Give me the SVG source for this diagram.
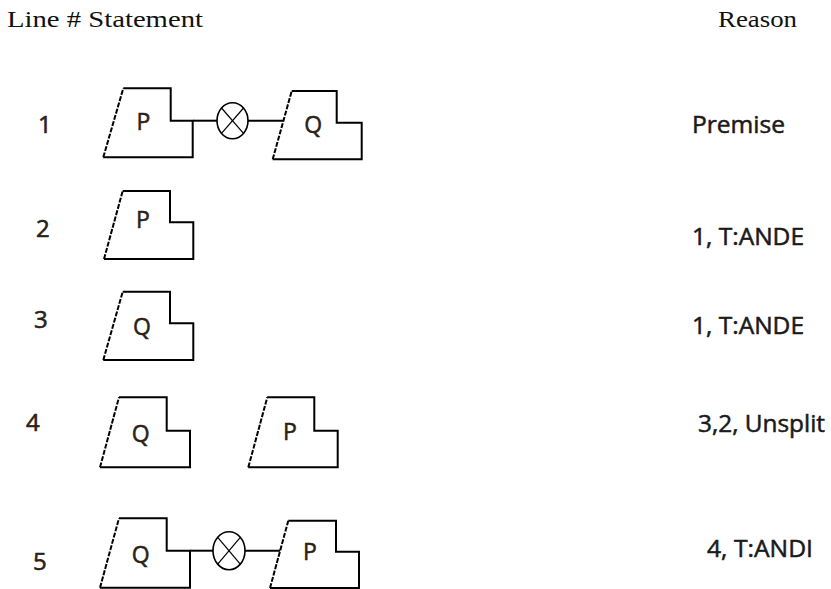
<svg xmlns="http://www.w3.org/2000/svg" width="831" height="589" viewBox="0 0 831 589">
<defs>
<style>
.hdr{font-family:"Liberation Serif","DejaVu Serif",serif;font-size:24px;fill:#111}
.txt{font-family:"Open Sans",Lato,"Liberation Sans",sans-serif;font-size:23px;fill:#1a1a1a;stroke:#1a1a1a;stroke-width:0.5}
.num{font-family:"Open Sans",Lato,"Liberation Sans",sans-serif;font-size:24px;fill:#2a2218;stroke:#2a2218;stroke-width:0.6}
.lbl{font-family:"Open Sans",Lato,"Liberation Sans",sans-serif;font-size:23px;fill:#2a2218;stroke:#2a2218;stroke-width:0.5;text-anchor:middle}
.box{fill:#fff;stroke:#000;stroke-width:2;stroke-linejoin:miter}
.dash{fill:none;stroke:#000;stroke-width:2;stroke-dasharray:5 1.5}
.conn{fill:none;stroke:#000;stroke-width:2}
.op{fill:#fff;stroke:#000;stroke-width:1.6}
.opx{stroke:#000;stroke-width:1.2}
</style>
</defs>
<rect width="831" height="589" fill="#fff"/>
<g id="header">
<text class="hdr" x="7" y="27" textLength="196" lengthAdjust="spacingAndGlyphs">Line # Statement</text>
<text class="hdr" x="718" y="27" textLength="79" lengthAdjust="spacingAndGlyphs">Reason</text>
</g>
<g id="line-numbers">
<text class="num" x="38" y="133">1</text>
<text class="num" x="36" y="237">2</text>
<text class="num" x="34" y="328">3</text>
<text class="num" x="26" y="431">4</text>
<text class="num" x="33" y="570">5</text>
</g>
<g id="reasons">
<text class="txt" x="692" y="133" textLength="93" lengthAdjust="spacingAndGlyphs">Premise</text>
<text class="txt" x="692" y="245" textLength="112" lengthAdjust="spacingAndGlyphs">1, T:ANDE</text>
<text class="txt" x="692" y="334" textLength="112" lengthAdjust="spacingAndGlyphs">1, T:ANDE</text>
<text class="txt" x="698" y="432" textLength="127" lengthAdjust="spacingAndGlyphs">3,2, Unsplit</text>
<text class="txt" x="707" y="557" textLength="106" lengthAdjust="spacingAndGlyphs">4, T:ANDI</text>
</g>
<g id="connectors">
<line class="conn" x1="193" y1="120.7" x2="217" y2="120.7"/>
<line class="conn" x1="248" y1="120.7" x2="283.4" y2="120.7"/>
<line class="conn" x1="190" y1="550.7" x2="213" y2="550.7"/>
<line class="conn" x1="245" y1="550.7" x2="280.1" y2="550.7"/>
</g>
<g id="row1-P">
<path class="box" d="M123.3,88.3 H170.7 V120.7 H192.7 V157.3 H103.3"/>
<line class="dash" x1="103.3" y1="157.3" x2="123.3" y2="88.3"/>
<text class="lbl" x="143.3" y="130">P</text>
</g>
<g id="row1-op">
<ellipse class="op" cx="232.5" cy="120.7" rx="15.5" ry="18"/>
<line class="opx" x1="221.5" y1="108" x2="243.5" y2="133.4"/>
<line class="opx" x1="243.5" y1="108" x2="221.5" y2="133.4"/>
</g>
<g id="row1-Q">
<path class="box" d="M291.7,91 H336.7 V122.7 H361.7 V159.3 H272.7"/>
<line class="dash" x1="272.7" y1="159.3" x2="291.7" y2="91"/>
<text class="lbl" x="313.3" y="133">Q</text>
</g>
<g id="row2-P">
<path class="box" d="M122.7,191 H170 V222.3 H193.3 V259 H104"/>
<line class="dash" x1="104" y1="259" x2="122.7" y2="191"/>
<text class="lbl" x="143" y="228">P</text>
</g>
<g id="row3-Q">
<path class="box" d="M122.7,291.7 H170 V323.3 H193.3 V360 H103.3"/>
<line class="dash" x1="103.3" y1="360" x2="122.7" y2="291.7"/>
<text class="lbl" x="142" y="335">Q</text>
</g>
<g id="row4-Q">
<path class="box" d="M119,397.3 H166.7 V430.7 H190 V467.3 H100"/>
<line class="dash" x1="100" y1="467.3" x2="119" y2="397.3"/>
<text class="lbl" x="140.7" y="442">Q</text>
</g>
<g id="row4-P">
<path class="box" d="M267.3,397.3 H314.3 V430.7 H337.7 V467.3 H248.3"/>
<line class="dash" x1="248.3" y1="467.3" x2="267.3" y2="397.3"/>
<text class="lbl" x="290" y="440">P</text>
</g>
<g id="row5-Q">
<path class="box" d="M119,518.3 H166.7 V550.7 H190 V587.7 H100"/>
<line class="dash" x1="100" y1="587.7" x2="119" y2="518.3"/>
<text class="lbl" x="140.7" y="563">Q</text>
</g>
<g id="row5-op">
<ellipse class="op" cx="229" cy="550.7" rx="16" ry="19"/>
<line class="opx" x1="217.7" y1="537.3" x2="240.3" y2="564.1"/>
<line class="opx" x1="240.3" y1="537.3" x2="217.7" y2="564.1"/>
</g>
<g id="row5-P">
<path class="box" d="M288.3,520.7 H336 V551.7 H359 V588 H270"/>
<line class="dash" x1="270" y1="588" x2="288.3" y2="520.7"/>
<text class="lbl" x="310" y="560">P</text>
</g>
</svg>
